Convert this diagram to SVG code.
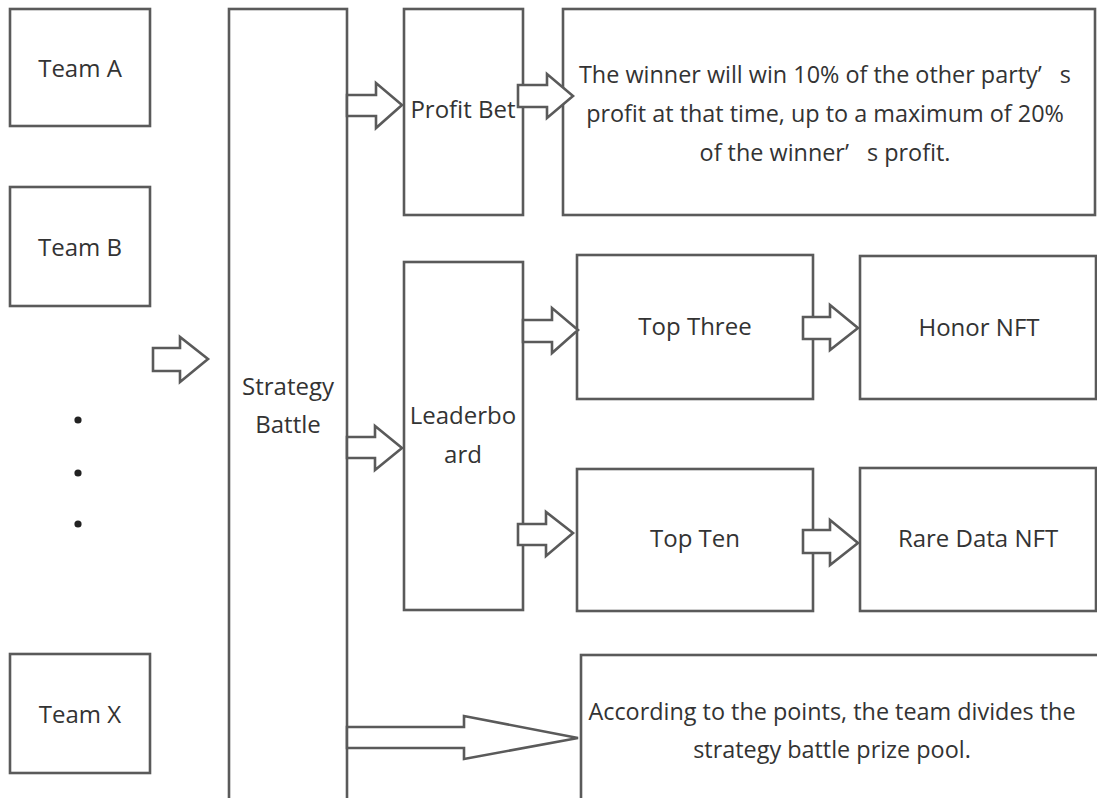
<svg xmlns="http://www.w3.org/2000/svg" width="1097" height="798" viewBox="0 0 1097 798">
<style>
.box{fill:#fff;stroke:#5a5a5a;stroke-width:2.6}
.arr{fill:#fff;stroke:#5a5a5a;stroke-width:2.6;stroke-linejoin:miter}
text{font-family:"Open Sans","Noto Sans","DejaVu Sans",sans-serif;font-size:24px;fill:#333;text-anchor:middle}
.long{font-size:23.4px}
.dot{fill:#222}
</style>
<rect width="1097" height="798" fill="#fff"/>
<g id="team-a"><rect class="box" x="10" y="9" width="140" height="117"/><text x="80" y="77">Team A</text></g>
<g id="team-b"><rect class="box" x="10" y="187" width="140" height="119"/><text x="80" y="256">Team B</text></g>
<g id="dots"><circle class="dot" cx="78" cy="420" r="3.6"/><circle class="dot" cx="78" cy="473" r="3.6"/><circle class="dot" cx="78" cy="524" r="3.6"/></g>
<g id="team-x"><rect class="box" x="10" y="654" width="140" height="119"/><text x="80" y="723">Team X</text></g>
<g id="strategy-battle"><rect class="box" x="229" y="9" width="118" height="810"/><text x="288" y="395">Strategy</text><text x="288" y="433">Battle</text></g>
<g id="profit-bet"><rect class="box" x="404" y="9" width="119" height="206"/><text x="463" y="118">Profit Bet</text></g>
<g id="profit-desc"><rect class="box" x="563" y="9" width="532" height="206"/><text class="long" x="825" y="83">The winner will win 10% of the other party’ <tspan dx="12">s</tspan></text><text class="long" x="825" y="122">profit at that time, up to a maximum of 20%</text><text class="long" x="825" y="161">of the winner’ <tspan dx="12">s profit.</tspan></text></g>
<g id="leaderboard"><rect class="box" x="404" y="262" width="119" height="348"/><text x="463" y="424">Leaderbo</text><text x="463" y="463">ard</text></g>
<g id="top-three"><rect class="box" x="577" y="255" width="236" height="144"/><text x="695" y="335">Top Three</text></g>
<g id="top-ten"><rect class="box" x="577" y="469" width="236" height="142"/><text x="695" y="547">Top Ten</text></g>
<g id="honor-nft"><rect class="box" x="860" y="256" width="236" height="143"/><text x="979" y="336">Honor NFT</text></g>
<g id="rare-data-nft"><rect class="box" x="860" y="468" width="236" height="143"/><text x="978" y="547">Rare Data NFT</text></g>
<g id="prize-pool"><rect class="box" x="581" y="655" width="540" height="160"/><text class="long" x="832" y="720">According to the points, the team divides the</text><text class="long" x="832" y="758">strategy battle prize pool.</text></g>
<g id="connectors">
<polygon class="arr" points="153,348 180,348 180,337 208,359 180,382 180,371 153,371"/>
<polygon class="arr" points="347,95 376,95 376,83 402,105 376,128 376,116 347,116"/>
<polygon class="arr" points="518,85 547,85 547,74 573,96 547,118 547,107 518,107"/>
<polygon class="arr" points="347,437 375,437 375,426 402,448 375,470 375,458 347,458"/>
<polygon class="arr" points="523,320 552,320 552,308 578,330 552,353 552,342 523,342"/>
<polygon class="arr" points="518,524 546,524 546,512 573,533 546,556 546,545 518,545"/>
<polygon class="arr" points="803,317 830,317 830,305 858,328 830,350 830,339 803,339"/>
<polygon class="arr" points="803,530 830,530 830,520 858,543 830,565 830,553 803,553"/>
<polygon class="arr" points="347,727 464,727 464,716 578,738 464,759 464,748 347,748"/>
</g>
</svg>
